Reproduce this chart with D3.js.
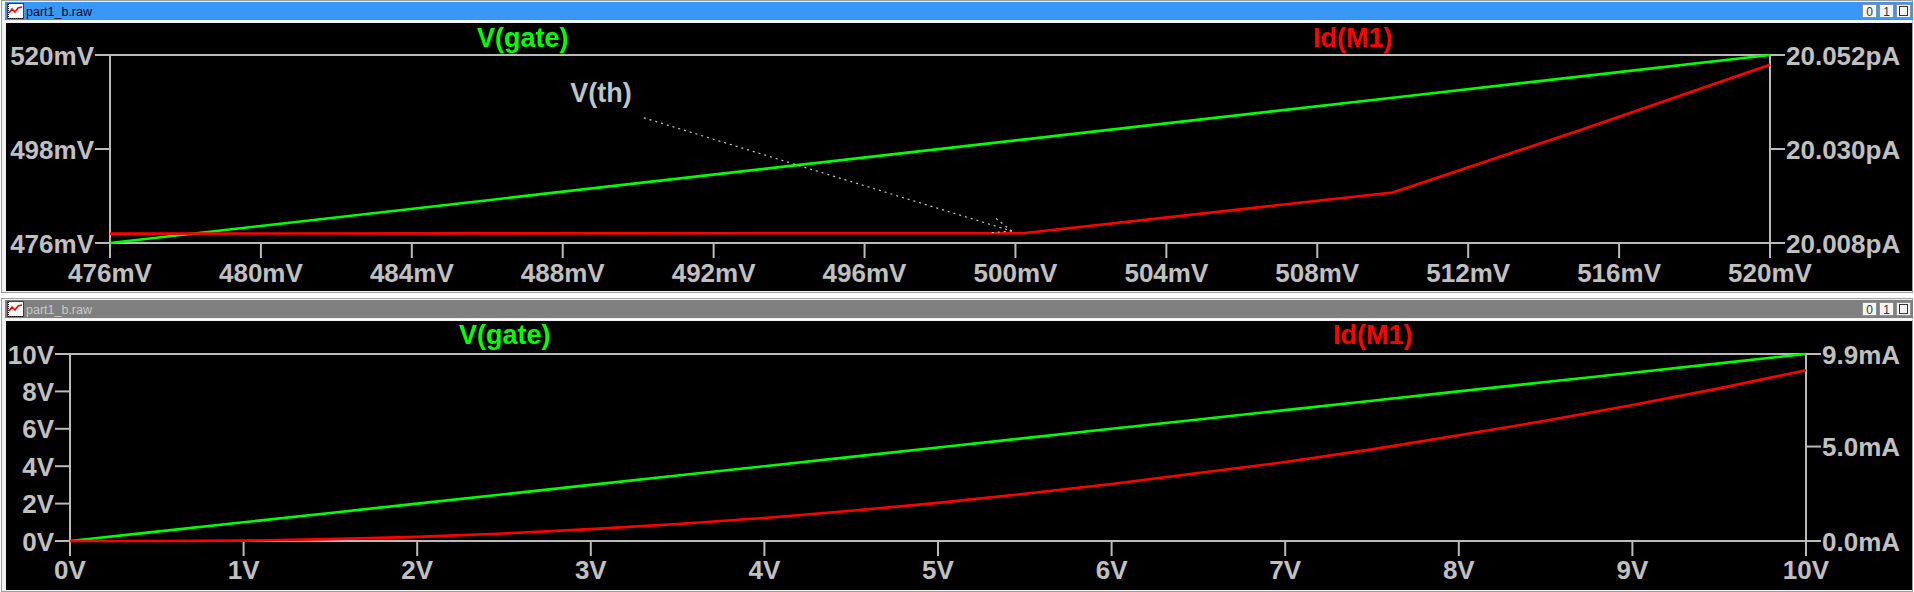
<!DOCTYPE html>
<html>
<head>
<meta charset="utf-8">
<script src="https://cdn.jsdelivr.net/npm/d3@7"></script>
<style>
  html, body { margin: 0; padding: 0; background: #ffffff; }
  svg { display: block; }
  text { font-family: "Liberation Sans", Arial, sans-serif; }
</style>
</head>
<body>
<svg id="chart" width="1914" height="592"></svg>
<script>
// ---------- DATA ----------
// Top pane: DC sweep around threshold (x in mV)
const topSweep = [476, 500.2, 510, 515, 520];          // V(gate) sweep points, mV
const topGate  = [476, 500.2, 510, 515, 520];          // V(gate), mV
const topId    = [20.0102, 20.0103, 20.0198, 20.0345, 20.0497]; // Id(M1), pA
const topXTicks = [476, 480, 484, 488, 492, 496, 500, 504, 508, 512, 516, 520];
const topYLeftTicks = [476, 498, 520];
const topYRightTicks = [20.008, 20.030, 20.052];
const topVthNote = { text: "V(th)", tx: 488.2, ty: 509.0, x0: 490.15, y0: 505.3, x1: 499.9, y1: 478.8 };

// Bottom pane: full sweep 0..10 V
const botSweep = [0, 0.5, 1, 1.5, 2, 2.5, 3, 3.5, 4, 4.5, 5, 5.5, 6, 6.5, 7, 7.5, 8, 8.5, 9, 9.5, 10];
const botGate  = [0, 0.5, 1, 1.5, 2, 2.5, 3, 3.5, 4, 4.5, 5, 5.5, 6, 6.5, 7, 7.5, 8, 8.5, 9, 9.5, 10];
const botId    = [0, 0, 0.02, 0.10, 0.22, 0.40, 0.63, 0.90, 1.22, 1.60, 2.02, 2.50, 3.02, 3.60, 4.18, 4.85, 5.60, 6.37, 7.20, 8.08, 9.04]; // mA
const botXTicks = [0, 1, 2, 3, 4, 5, 6, 7, 8, 9, 10];
const botYLeftTicks = [0, 2, 4, 6, 8, 10];
const botYRightTicks = [0, 5.0, 9.9];

const windowTitle = "part1_b.raw";
const traceNames = ["V(gate)", "Id(M1)"];

// ---------- STYLE ----------
const AX = "#bababa", TXT = "#c0c0c0", GREEN = "#00ff00", RED = "#ff0000";
const FS = 26, FSL = 27;

const svg = d3.select("#chart");

function drawWindow(y0, active, h) {
  const g = svg.append("g");
  g.append("rect").attr("x", 1.5).attr("y", y0 - 1.5).attr("width", 1911).attr("height", h + 2)
    .attr("fill", "#f0f0f0").attr("stroke", "#a0a0a0").attr("stroke-width", 1);
  g.append("rect").attr("x", 5).attr("y", y0).attr("width", 1908).attr("height", 18)
    .attr("fill", active ? "#3997f5" : "#808080");
  g.append("line").attr("x1", 5).attr("x2", 1913).attr("y1", y0 + 19.5).attr("y2", y0 + 19.5)
    .attr("stroke", "#ffffff").attr("stroke-width", 1);
  g.append("rect").attr("x", 6).attr("y", y0 + 21).attr("width", 1906).attr("height", h - 22)
    .attr("fill", "#000000");
  const ic = g.append("g").attr("transform", `translate(7,${y0 + 1})`);
  ic.append("rect").attr("x", 0.5).attr("y", 0.5).attr("width", 16).attr("height", 15)
    .attr("fill", "#ffffff").attr("stroke", "#404040");
  ic.append("path").attr("d", "M1,15.5 H16.5 M1.5,1 V15.5").attr("stroke", "#000").attr("stroke-dasharray", "1,1");
  ic.append("path").attr("d", "M2,10 L5,6 L8,9 L11,5 L15,4").attr("fill", "none").attr("stroke", "#ff0000").attr("stroke-width", 1.5);
  g.append("text").attr("x", 26).attr("y", y0 + 14).attr("font-size", 12.5)
    .attr("fill", active ? "#0a0a28" : "#c8c8c8").text(windowTitle);
  ["0", "1", ""].forEach((b, i) => {
    const bx = 1862 + i * 17;
    g.append("rect").attr("x", bx + 0.5).attr("y", y0 + 2.5).attr("width", 14).attr("height", 13)
      .attr("fill", "#f4f4f4").attr("stroke", "#909090");
    if (b) g.append("text").attr("x", bx + 7.5).attr("y", y0 + 13.5).attr("text-anchor", "middle")
      .attr("font-size", 12).attr("fill", "#333").text(b);
    else g.append("rect").attr("x", bx + 3.5).attr("y", y0 + 4.5).attr("width", 8).attr("height", 9)
      .attr("fill", "none").attr("stroke", "#333");
  });
}

function drawPane(cfg) {
  const { x, yL, yR, xTicks, yLTicks, yRTicks, fmtX, fmtL, fmtR } = cfg;
  const g = svg.append("g");
  const [xl, xr] = x.range();
  const [yb, yt] = yL.range();
  const tick = 15;
  g.append("rect").attr("x", xl).attr("y", yt).attr("width", xr - xl).attr("height", yb - yt)
    .attr("fill", "none").attr("stroke", AX).attr("stroke-width", 2);
  xTicks.forEach(v => {
    g.append("line").attr("x1", x(v)).attr("x2", x(v)).attr("y1", yb).attr("y2", yb + tick)
      .attr("stroke", AX).attr("stroke-width", 2);
    g.append("text").attr("x", x(v)).attr("y", yb + cfg.xLabDy).attr("text-anchor", "middle")
      .attr("font-size", FS).attr("font-weight", "bold").attr("fill", TXT).text(fmtX(v));
  });
  yLTicks.forEach(v => {
    g.append("line").attr("x1", xl - tick).attr("x2", xl).attr("y1", yL(v)).attr("y2", yL(v))
      .attr("stroke", AX).attr("stroke-width", 2);
    g.append("text").attr("x", xl - tick - 1).attr("y", yL(v) + 9.5).attr("text-anchor", "end")
      .attr("font-size", FS).attr("font-weight", "bold").attr("fill", TXT).text(fmtL(v));
  });
  yRTicks.forEach(v => {
    g.append("line").attr("x1", xr).attr("x2", xr + tick).attr("y1", yR(v)).attr("y2", yR(v))
      .attr("stroke", AX).attr("stroke-width", 2);
    g.append("text").attr("x", xr + tick + 1).attr("y", yR(v) + 9.5).attr("text-anchor", "start")
      .attr("font-size", FS).attr("font-weight", "bold").attr("fill", TXT).text(fmtR(v));
  });
  return g;
}

function trace(g, xs, ys, x, y, color) {
  const line = d3.line().x((d, i) => x(xs[i])).y(d => y(d));
  g.append("path").datum(ys).attr("d", line).attr("fill", "none")
    .attr("stroke", color).attr("stroke-width", 2.6).attr("stroke-linejoin", "round");
}

function traceLabel(xp, yp, txt, color) {
  svg.append("text").attr("x", xp).attr("y", yp).attr("font-size", FSL).attr("font-weight", "bold")
    .attr("fill", color).text(txt);
}

drawWindow(2, true, 290);
drawWindow(300, false, 291);

// ---------- TOP PANE ----------
const xT = d3.scaleLinear().domain([476, 520]).range([110, 1770]);
const yTL = d3.scaleLinear().domain([476, 520]).range([243, 55]);
const yTR = d3.scaleLinear().domain([20.008, 20.052]).range([243, 55]);
const gT = drawPane({ x: xT, yL: yTL, yR: yTR, xTicks: topXTicks, yLTicks: topYLeftTicks, yRTicks: topYRightTicks,
  fmtX: v => v + "mV", fmtL: v => v + "mV", fmtR: v => v.toFixed(3) + "pA", xLabDy: 39 });
trace(gT, topSweep, topGate, xT, yTL, GREEN);
trace(gT, topSweep, topId, xT, yTR, RED);
traceLabel(477, 47, traceNames[0], GREEN);
traceLabel(1313, 47, traceNames[1], RED);

const n = topVthNote;
svg.append("text").attr("x", xT(n.tx)).attr("y", yTL(n.ty)).attr("font-size", FSL).attr("font-weight", "bold")
  .attr("fill", "#bcc4cc").text(n.text);
const ax0 = xT(n.x0), ay0 = yTL(n.y0), ax1 = xT(n.x1), ay1 = yTL(n.y1);
const ang = Math.atan2(ay1 - ay0, ax1 - ax0);
function dl(x1, y1, x2, y2) {
  svg.append("line").attr("x1", x1).attr("y1", y1).attr("x2", x2).attr("y2", y2)
    .attr("stroke", "#c8c8c8").attr("stroke-width", 1.2).attr("stroke-dasharray", "2,4");
}
dl(ax0, ay0, ax1, ay1);
const ah = 24;
dl(ax1, ay1, ax1 - ah * Math.cos(ang - 0.38), ay1 - ah * Math.sin(ang - 0.38));
dl(ax1, ay1, ax1 - ah * Math.cos(ang + 0.38), ay1 - ah * Math.sin(ang + 0.38));

// ---------- BOTTOM PANE ----------
const xB = d3.scaleLinear().domain([0, 10]).range([70, 1806]);
const yBL = d3.scaleLinear().domain([0, 10]).range([541, 354]);
const yBR = d3.scaleLinear().domain([0, 9.9]).range([541, 354]);
const gB = drawPane({ x: xB, yL: yBL, yR: yBR, xTicks: botXTicks, yLTicks: botYLeftTicks, yRTicks: botYRightTicks,
  fmtX: v => v + "V", fmtL: v => v + "V", fmtR: v => v.toFixed(1) + "mA", xLabDy: 38 });
trace(gB, botSweep, botGate, xB, yBL, GREEN);
trace(gB, botSweep, botId, xB, yBR, RED);
traceLabel(459, 344, traceNames[0], GREEN);
traceLabel(1333, 344, traceNames[1], RED);
</script>
</body>
</html>
